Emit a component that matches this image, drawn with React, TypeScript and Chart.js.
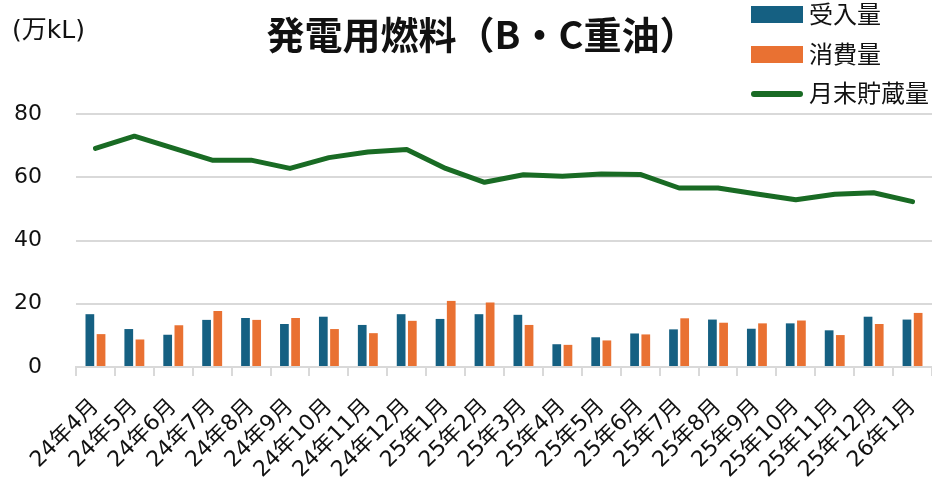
import React, { useEffect, useRef } from "react";
import { Chart, registerables } from "chart.js";

Chart.register(...registerables);

const categories = [
  "24年4月", "24年5月", "24年6月", "24年7月", "24年8月", "24年9月", "24年10月", "24年11月", "24年12月",
  "25年1月", "25年2月", "25年3月", "25年4月", "25年5月", "25年6月", "25年7月", "25年8月", "25年9月",
  "25年10月", "25年11月", "25年12月", "26年1月",
];
const received = [16.7, 12.0, 10.2, 14.9, 15.5, 13.6, 15.9, 13.3, 16.7, 15.2, 16.7, 16.5, 7.2, 9.4, 10.6, 11.9, 15.0, 12.1, 13.8, 11.6, 15.9, 15.0];
const consumed = [10.4, 8.7, 13.2, 17.7, 14.9, 15.5, 12.0, 10.7, 14.6, 20.9, 20.4, 13.3, 7.0, 8.4, 10.3, 15.4, 14.0, 13.8, 14.7, 10.1, 13.6, 17.1];
const stock = [69.1, 73.0, 69.2, 65.4, 65.4, 62.8, 66.2, 68.0, 68.8, 62.8, 58.4, 60.8, 60.3, 61.0, 60.9, 56.6, 56.6, 54.7, 52.9, 54.6, 55.1, 52.3];
const yTicks = [0, 20, 40, 60, 80];

const seriesNames = ["受入量", "消費量", "月末貯蔵量"];
const titleText = "発電用燃料（B・C重油）";
const unitText = "(万kL)";

const BLUE = "#156082";
const ORANGE = "#E97132";
const GREEN = "#196B24";
const GRID = "#d9d9d9";
const TEXT = "#111111";
const FONT = "'DejaVu Sans', 'Noto Sans CJK JP', sans-serif";

const W = 932;
const H = 488;

const overlayPlugin = {
  id: "overlay",
  afterDraw(chart: any) {
    const ctx = chart.ctx;
    ctx.save();
    // unit label
    ctx.fillStyle = TEXT;
    ctx.font = `25px ${FONT}`;
    ctx.textAlign = "left";
    ctx.textBaseline = "middle";
    ctx.fillText(unitText, 12, 31);
    // title
    ctx.font = `bold 38px 'Noto Sans CJK JP', ${FONT}`;
    ctx.textAlign = "center";
    ctx.fillText(titleText, 482, 35);
    // legend
    const ds = chart.data.datasets;
    const rows = [14.5, 54.5, 94];
    ctx.font = `24px 'Noto Sans CJK JP', ${FONT}`;
    ctx.textAlign = "left";
    ds.forEach((d: any, i: number) => {
      const y = rows[i];
      if (d.type === "line") {
        ctx.strokeStyle = d.borderColor;
        ctx.lineWidth = 6;
        ctx.lineCap = "round";
        ctx.beginPath();
        ctx.moveTo(754, y);
        ctx.lineTo(800, y);
        ctx.stroke();
      } else {
        ctx.fillStyle = d.backgroundColor;
        ctx.fillRect(751, y - 8.5, 52, 17);
      }
      ctx.fillStyle = TEXT;
      ctx.fillText(d.label, 809, y - 1);
    });
    ctx.restore();
  },
};

export default function App() {
  const ref = useRef<HTMLCanvasElement | null>(null);
  useEffect(() => {
    if (!ref.current) return;
    const chart = new Chart(ref.current, {
      type: "bar",
      data: {
        labels: categories,
        datasets: [
          {
            type: "bar",
            label: seriesNames[0],
            data: received,
            backgroundColor: BLUE,
            categoryPercentage: 0.575,
            barPercentage: 0.78,
            order: 2,
          },
          {
            type: "bar",
            label: seriesNames[1],
            data: consumed,
            backgroundColor: ORANGE,
            categoryPercentage: 0.575,
            barPercentage: 0.78,
            order: 2,
          },
          {
            type: "line",
            label: seriesNames[2],
            data: stock,
            borderColor: GREEN,
            backgroundColor: GREEN,
            borderWidth: 5,
            pointRadius: 0,
            tension: 0,
            borderCapStyle: "round",
            borderJoinStyle: "round",
            order: 1,
          } as any,
        ],
      },
      options: {
        responsive: false,
        animation: false,
        layout: { padding: { top: 114, left: 0, right: -3, bottom: 0 } },
        plugins: {
          legend: { display: false },
          title: { display: false },
          tooltip: { enabled: false },
        },
        scales: {
          x: {
            offset: true,
            grid: {
              display: true,
              offset: true,
              drawOnChartArea: false,
              drawTicks: true,
              tickLength: 9,
              color: GRID,
              lineWidth: 2,
            },
            border: { display: true, color: GRID, width: 2 },
            ticks: {
              autoSkip: false,
              minRotation: 45,
              maxRotation: 45,
              padding: 18,
              color: TEXT,
              font: { size: 22, family: FONT },
            },
            afterFit(scale: any) {
              scale.height = H - 367;
              scale.paddingLeft = 0;
              scale.paddingRight = 0;
            },
          },
          y: {
            min: 0,
            max: 80,
            afterBuildTicks(scale: any) {
              scale.ticks = yTicks.map((v) => ({ value: v }));
            },
            grid: { color: GRID, lineWidth: 2, drawTicks: false },
            border: { display: false },
            ticks: {
              padding: 34,
              color: TEXT,
              font: { size: 22, family: FONT },
            },
            afterFit(scale: any) {
              scale.width = 76;
            },
          },
        },
      },
      plugins: [overlayPlugin],
    });
    return () => chart.destroy();
  }, []);
  return (
    <div style={{ position: "absolute", left: 0, top: 0, width: W, height: H, background: "#fff" }}>
      <canvas ref={ref} width={W} height={H} style={{ display: "block", width: W, height: H }} />
    </div>
  );
}
